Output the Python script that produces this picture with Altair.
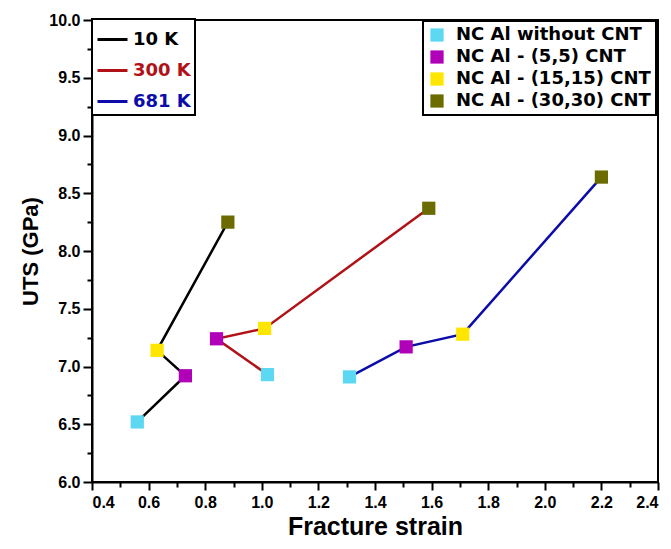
import altair as alt
import pandas as pd

temps = ["10 K", "300 K", "681 K"]
temp_colors = ["#000000", "#b01218", "#0c0caa"]
cnt_types = ["NC Al without CNT", "NC Al - (5,5) CNT", "NC Al - (15,15) CNT", "NC Al - (30,30) CNT"]
cnt_colors = ["#5cd8f2", "#b000b8", "#ffe600", "#6b6b00"]

strain_10 = [0.56, 0.73, 0.63, 0.88]
uts_10 = [6.52, 6.92, 7.14, 8.25]
strain_300 = [1.02, 0.84, 1.01, 1.59]
uts_300 = [6.93, 7.24, 7.33, 8.37]
strain_681 = [1.31, 1.51, 1.71, 2.20]
uts_681 = [6.91, 7.17, 7.28, 8.64]

x_ticks = [0.4, 0.5, 0.6, 0.7, 0.8, 0.9, 1.0, 1.1, 1.2, 1.3, 1.4, 1.5, 1.6, 1.7, 1.8, 1.9, 2.0, 2.1, 2.2, 2.3, 2.4]
y_ticks = [6.0, 6.25, 6.5, 6.75, 7.0, 7.25, 7.5, 7.75, 8.0, 8.25, 8.5, 8.75, 9.0, 9.25, 9.5, 9.75, 10.0]

rows = []
for t, xs, ys in zip(temps, [strain_10, strain_300, strain_681], [uts_10, uts_300, uts_681]):
    for i, (c, xv, yv) in enumerate(zip(cnt_types, xs, ys)):
        rows.append({"temp": t, "cnt": c, "strain": xv, "uts": yv, "idx": i})
df = pd.DataFrame(rows)

FONT = "Liberation Sans"
LEG_FONT = "DejaVu Sans"

x_enc = alt.X(
    "strain:Q",
    scale=alt.Scale(domain=[0.4, 2.4], nice=False, zero=False),
    axis=alt.Axis(
        title="Fracture strain",
        values=x_ticks,
        labelExpr="(round(datum.value*10) % 2 == 0) ? format(datum.value, '.1f') : ''",
        tickSize={"condition": {"test": "round(datum.value*10) % 2 == 1", "value": 5}, "value": 8},
        labelPadding=4,
        titlePadding=4,
        titleFontSize=25,
    ),
)
y_enc = alt.Y(
    "uts:Q",
    scale=alt.Scale(domain=[6, 10], nice=False, zero=False),
    axis=alt.Axis(
        title="UTS (GPa)",
        values=y_ticks,
        labelExpr="(round(datum.value*4) % 2 == 0) ? format(datum.value, '.1f') : ''",
        tickSize={"condition": {"test": "round(datum.value*4) % 2 == 1", "value": 5}, "value": 9},
        labelPadding=3,
        titlePadding=6,
        titleFontSize=22,
    ),
)

lines = alt.Chart(df).mark_line(strokeWidth=2.5).encode(
    x=x_enc,
    y=y_enc,
    stroke=alt.Stroke(
        "temp:N",
        scale=alt.Scale(domain=temps, range=temp_colors),
        legend=alt.Legend(
            title=None,
            orient="none",
            legendX=0,
            legendY=-1,
            symbolType="stroke",
            symbolSize=900,
            symbolStrokeWidth=3,
            strokeColor="black",
            padding=4,
            rowPadding=5,
            labelFontSize=18,
            labelFont=LEG_FONT,
            labelFontWeight="bold",
            labelOffset=4,
            labelColor=alt.ExprRef(expr="datum.value == '10 K' ? '#000000' : (datum.value == '300 K' ? '#b01218' : '#0c0caa')"),
        ),
    ),
    detail="temp:N",
    order="idx:Q",
)

points = alt.Chart(df).mark_square(size=175, opacity=1).encode(
    x=x_enc,
    y=y_enc,
    fill=alt.Fill(
        "cnt:N",
        scale=alt.Scale(domain=cnt_types, range=cnt_colors),
        sort=cnt_types,
        legend=alt.Legend(
            title=None,
            orient="none",
            legendX=331,
            legendY=1,
            symbolType="square",
            symbolSize=175,
            symbolStrokeWidth=0,
            strokeColor="black",
            padding=5,
            rowPadding=4,
            labelFontSize=18,
            labelFont=LEG_FONT,
            labelFontWeight="bold",
            labelColor="black",
            labelOffset=10,
            labelLimit=300,
        ),
    ),
)

chart = alt.layer(lines, points).properties(
    width=566,
    height=462,
    autosize=alt.AutoSizeParams(type="none"),
    padding={"left": 84, "top": 12, "right": 5, "bottom": 56},
).configure_view(
    stroke="black", strokeWidth=2
).configure_axis(
    grid=False,
    domainColor="black",
    domainWidth=2,
    tickColor="black",
    tickWidth=2,
    labelFont=FONT,
    labelFontWeight="bold",
    labelFontSize=16,
    labelColor="black",
    titleFont=FONT,
    titleFontWeight="bold",
    titleColor="black",
).configure_legend(
    fillColor="white",
    strokeWidth=2,
)

chart.save("out.html", embed_options={"renderer": "svg", "actions": False})
